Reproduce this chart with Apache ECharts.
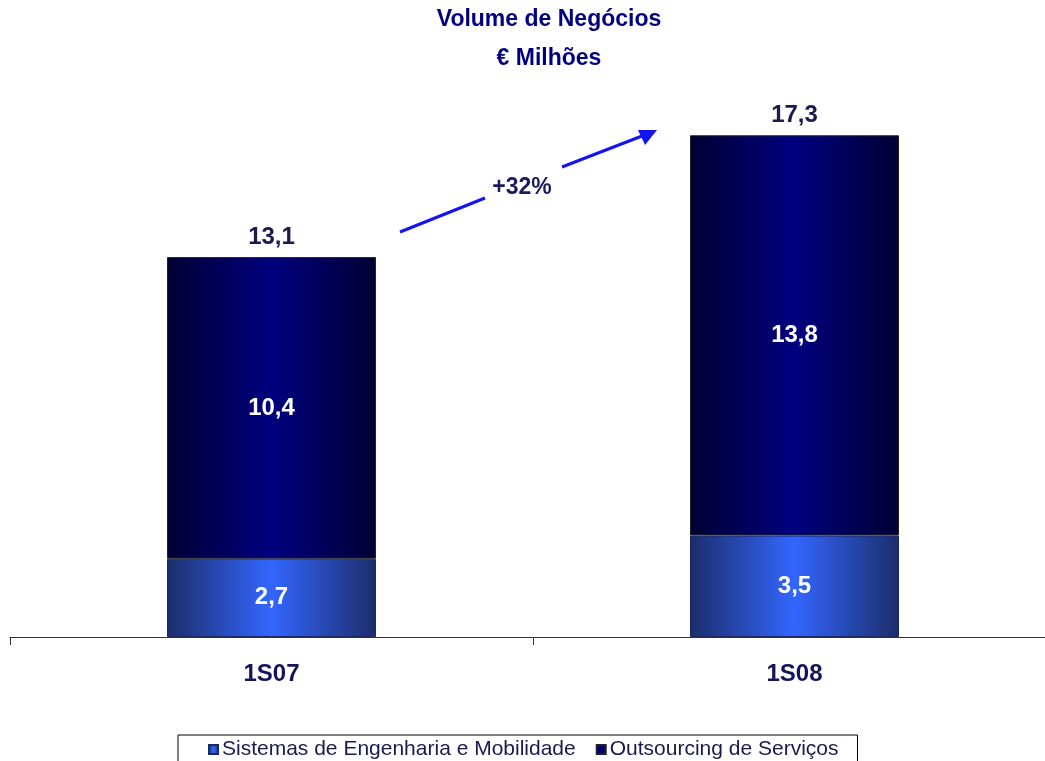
<!DOCTYPE html>
<html>
<head>
<meta charset="utf-8">
<script src="https://cdn.jsdelivr.net/npm/echarts@6/dist/echarts.min.js"></script>
<style>
  html, body { margin: 0; padding: 0; background: #fff; overflow: hidden; }
  /* plot runs a little past the right edge, as in the original */
  #chart { width: 1056px; height: 761px; }
</style>
</head>
<body>
<div id="chart"></div>
<script>
var categories = ['1S07', '1S08'];
var engenharia = [2.7, 3.5];
var outsourcing = [10.4, 13.8];
var totals = [13.1, 17.3];
var seriesNames = ['Sistemas de Engenharia e Mobilidade', 'Outsourcing de Serviços'];

var fmt = function (v) { return v.toFixed(1).replace('.', ','); };
var growth = '+' + Math.round((totals[1] / totals[0] - 1) * 100) + '%';

var font = '"Liberation Sans", Arial, sans-serif';

var chart = echarts.init(document.getElementById('chart'));

var titleStyle = { fontFamily: font, fontSize: 23, fontWeight: 'bold', color: '#000080' };

var option = {
    animation: false,
    title: [
        { text: 'Volume de Negócios', left: 544, textAlign: 'center', top: 3, textStyle: titleStyle },
        { text: '€ Milhões', left: 544, textAlign: 'center', top: 42, textStyle: titleStyle }
    ],
    legend: {
        data: seriesNames,
        bottom: -8,
        left: 178,
        icon: 'rect',
        itemWidth: 9,
        itemHeight: 9,
        itemGap: 20,
        padding: [4, 19, 9, 30],
        borderColor: '#000',
        borderWidth: 1,
        backgroundColor: '#fff',
        textStyle: { fontFamily: font, fontSize: 21, color: '#1a1a4e', padding: [0, 0, 0, -1] }
    },
    grid: { left: 10, right: 0, top: 57, bottom: 124 },
    xAxis: {
        type: 'category',
        data: categories,
        axisLine: { lineStyle: { color: '#333', width: 1 } },
        axisTick: { show: true, length: 8, lineStyle: { color: '#333' } },
        axisLabel: { fontFamily: font, fontSize: 24, fontWeight: 'bold', color: '#14145a', margin: 25 }
    },
    yAxis: {
        type: 'value',
        min: 0,
        max: 20,
        show: false,
        splitLine: { show: false }
    },
    series: [
        {
            name: seriesNames[0],
            type: 'bar',
            stack: 'vn',
            barWidth: 209,
            data: engenharia,
            itemStyle: {
                borderColor: '#1a2a60',
                borderWidth: 1,
                color: new echarts.graphic.LinearGradient(0, 0, 1, 0, [
                    { offset: 0, color: '#1c2d6b' },
                    { offset: 0.5, color: '#3366ff' },
                    { offset: 1, color: '#1c2d6b' }
                ])
            },
            label: {
                show: true, position: 'inside', formatter: function (p) { return fmt(p.value); },
                fontFamily: font, fontSize: 24, fontWeight: 'bold', color: '#fff'
            }
        },
        {
            name: seriesNames[1],
            type: 'bar',
            stack: 'vn',
            barWidth: 209,
            data: outsourcing,
            itemStyle: {
                borderColor: '#222',
                borderWidth: 1,
                color: new echarts.graphic.LinearGradient(0, 0, 1, 0, [
                    { offset: 0, color: '#000033' },
                    { offset: 0.5, color: '#000080' },
                    { offset: 1, color: '#000033' }
                ])
            },
            label: {
                show: true, position: 'inside', formatter: function (p) { return fmt(p.value); },
                fontFamily: font, fontSize: 24, fontWeight: 'bold', color: '#fff'
            }
        },
        {
            // invisible bar, only carries the total on top
            name: 'total',
            type: 'bar',
            barWidth: 209,
            barGap: '-100%',
            data: totals,
            z: 1,
            itemStyle: { color: 'transparent' },
            label: {
                show: true, position: 'top', distance: 8, formatter: function (p) { return fmt(p.value); },
                fontFamily: font, fontSize: 24, fontWeight: 'bold', color: '#1a1a4e'
            },
            silent: true
        }
    ],
    graphic: [
        { type: 'line', shape: { x1: 400, y1: 232, x2: 485, y2: 198 }, style: { stroke: '#1414f0', lineWidth: 3 } },
        { type: 'line', shape: { x1: 562, y1: 167, x2: 642, y2: 136 }, style: { stroke: '#1414f0', lineWidth: 3 } },
        { type: 'polygon', shape: { points: [[657, 130], [638, 130], [645, 145]] }, style: { fill: '#1414f0' } },
        {
            type: 'text', x: 522, y: 188,
            style: { text: growth, font: 'bold 23px "Liberation Sans", Arial, sans-serif', fill: '#1a1a5e', align: 'center', verticalAlign: 'middle' }
        }
    ]
};

chart.setOption(option);
</script>
</body>
</html>
